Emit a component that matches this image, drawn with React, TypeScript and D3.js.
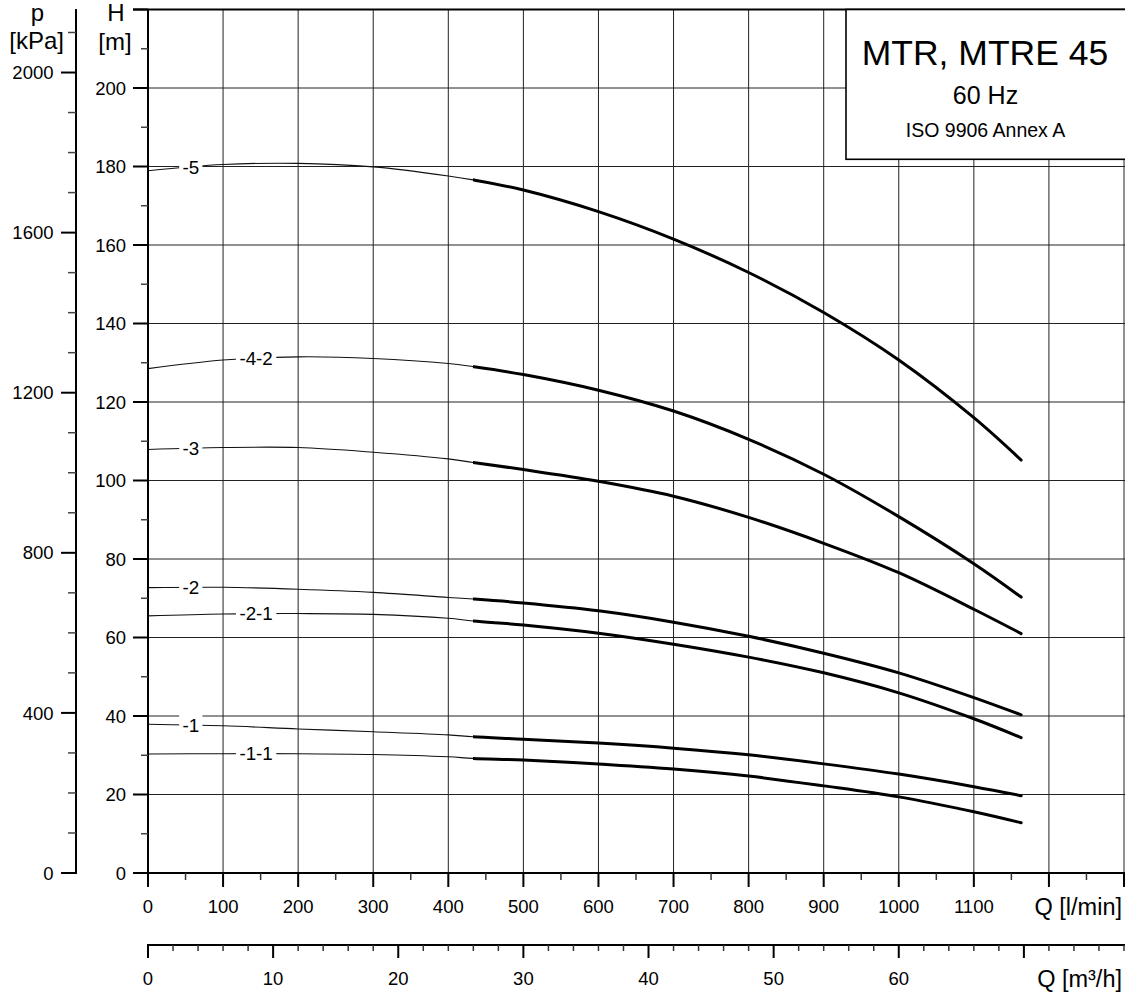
import React from "react";
import * as d3 from "d3";

// ---------- data ----------
const flowLpm = [0, 100, 200, 300, 400, 433, 500, 600, 700, 800, 900, 1000, 1100, 1163];
const head_5 = [178.9, 180.5, 180.8, 179.9, 177.6, 176.6, 174.0, 168.5, 161.5, 153.0, 142.8, 130.7, 116.0, 105.2];
const head_4_2 = [128.5, 130.7, 131.5, 131.1, 129.8, 129.0, 127.0, 123.0, 117.7, 110.5, 101.6, 90.8, 78.8, 70.3];
const head_3 = [107.9, 108.4, 108.4, 107.2, 105.5, 104.6, 102.8, 99.8, 96.0, 90.6, 84.0, 76.5, 67.2, 61.0];
const head_2 = [72.7, 72.8, 72.3, 71.5, 70.2, 69.8, 68.8, 66.8, 63.9, 60.3, 56.0, 51.0, 44.7, 40.3];
const head_2_1 = [65.5, 66.0, 66.1, 65.9, 64.9, 64.2, 63.2, 61.1, 58.3, 55.0, 51.0, 45.9, 39.3, 34.5];
const head_1 = [37.9, 37.5, 36.7, 36.0, 35.2, 34.7, 34.1, 33.1, 31.8, 30.1, 27.8, 25.2, 22.0, 19.7];
const head_1_1 = [30.3, 30.4, 30.4, 30.2, 29.6, 29.2, 28.8, 27.8, 26.5, 24.7, 22.2, 19.4, 15.6, 12.8];

const curveNames = ["-5", "-4-2", "-3", "-2", "-2-1", "-1", "-1-1"];
const curveHeads = [head_5, head_4_2, head_3, head_2, head_2_1, head_1, head_1_1];
const labelFlow = [57, 144, 57, 57, 144, 57, 144];
const thickFrom = 433;

const qTickLabels = [0, 100, 200, 300, 400, 500, 600, 700, 800, 900, 1000, 1100];
const m3hTickLabels = [0, 10, 20, 30, 40, 50, 60];
const hTickLabels = [0, 20, 40, 60, 80, 100, 120, 140, 160, 180, 200];
const pTickLabels = [0, 400, 800, 1200, 1600, 2000];

const titleLines = ["MTR, MTRE 45", "60 Hz", "ISO 9906 Annex A"];

// ---------- layout ----------
const W = 1125;
const H = 996;
const FONT = "'Liberation Sans', Arial, Helvetica, sans-serif";
const plotL = 148;
const plotR = 1124;
const plotB = 873;
const plotT = 9.5;
const Q_MAX = 1300;
const H_MAX = 220;

const x = d3.scaleLinear().domain([0, Q_MAX]).range([plotL, plotR]);
const xm = d3.scaleLinear().domain([0, Q_MAX / (1000 / 60)]).range([plotL, plotR]);
const y = d3.scaleLinear().domain([0, H_MAX]).range([plotB, plotT]);
const yp = d3.scaleLinear().domain([0, H_MAX * 9.80665]).range([plotB, plotT]);

const pAxisX = 76;
const m3Axis = 945;

export default function App() {
  const line = d3
    .line<[number, number]>()
    .x((d) => x(d[0]))
    .y((d) => y(d[1]))
    .curve(d3.curveCatmullRom.alpha(0.5));

  const vGrid = d3.range(100, Q_MAX + 1, 100);
  const hGrid = d3.range(20, 201, 20);
  const qMinor = d3.range(50, Q_MAX + 1, 100);
  const qMajor = d3.range(0, Q_MAX + 1, 100);
  const mMax = Q_MAX / (1000 / 60);
  const mTicks = d3.range(0, mMax + 0.01, 2);
  const hTicks = d3.range(0, H_MAX + 1, 10);
  const pMaxVal = H_MAX * 9.80665;
  const pTicks = d3.range(0, pMaxVal, 100);

  return (
    <svg
      width={W}
      height={H}
      style={{ position: "absolute", left: 0, top: 0, background: "#fff" }}
      fontFamily={FONT}
    >
      <defs>
        <clipPath id="thickClip">
          <rect x={x(thickFrom)} y={0} width={W - x(thickFrom)} height={H} />
        </clipPath>
      </defs>
      <rect x={0} y={0} width={W} height={H} fill="#fff" />
      {/* grid */}
      <g stroke="#222" strokeWidth={1}>
        {vGrid.map((q) => (
          <line key={"v" + q} x1={x(q)} x2={x(q)} y1={plotB} y2={plotT} />
        ))}
        {hGrid.map((h) => (
          <line key={"h" + h} x1={plotL} x2={W} y1={y(h)} y2={y(h)} />
        ))}
      </g>
      {/* top border */}
      <line x1={133} x2={W} y1={y(H_MAX)} y2={y(H_MAX)} stroke="#000" strokeWidth={2} />

      {/* curves */}
      {curveHeads.map((hs, i) => {
        const pts: [number, number][] = flowLpm.map((q, j) => [q, hs[j]]);
        const d = line(pts) || "";
        return (
          <g key={curveNames[i]}>
            <path d={d} fill="none" stroke="#111" strokeWidth={1.1} />
            <path
              d={d}
              fill="none"
              stroke="#000"
              strokeWidth={3}
              strokeLinecap="round"
              clipPath="url(#thickClip)"
            />
          </g>
        );
      })}

      {/* curve labels */}
      {curveHeads.map((hs, i) => {
        const interp = d3.scaleLinear().domain(flowLpm).range(hs);
        const lq = labelFlow[i];
        const cx = x(lq);
        const cy = y(interp(lq));
        const name = curveNames[i];
        const w = name.length * 8.6 + 6;
        return (
          <g key={"l" + name}>
            <rect x={cx - w / 2} y={cy - 10.5} width={w} height={21} fill="#fff" />
            <text
              x={cx}
              y={cy}
              dy="0.35em"
              textAnchor="middle"
              fontSize={18.8}
              fill="#000"
            >
              {name}
            </text>
          </g>
        );
      })}

      {/* title box */}
      <rect x={846} y={y(H_MAX)} width={W - 846 + 10} height={159.3 - y(H_MAX)} fill="#fff" stroke="#000" strokeWidth={1.6} />
      <text x={985} y={65} textAnchor="middle" fontSize={35.5} fill="#000">
        {titleLines[0]}
      </text>
      <text x={985.5} y={104} textAnchor="middle" fontSize={25} fill="#000">
        {titleLines[1]}
      </text>
      <text x={985.5} y={137.3} textAnchor="middle" fontSize={19.5} fill="#000">
        {titleLines[2]}
      </text>

      {/* H axis */}
      <line x1={plotL} x2={plotL} y1={plotT - 0.5} y2={plotB + 14} stroke="#000" strokeWidth={2} />
      {hTicks.map((h) => {
        const major = h % 20 === 0;
        return (
          <line
            key={"ht" + h}
            x1={major ? 133 : 141}
            x2={plotL}
            y1={y(h)}
            y2={y(h)}
            stroke={major ? "#000" : "#444"}
            strokeWidth={major ? 2 : 1.5}
          />
        );
      })}
      {hTickLabels.map((h) => (
        <text key={"hl" + h} x={126} y={y(h)} dy="0.36em" textAnchor="end" fontSize={18.5}>
          {h}
        </text>
      ))}
      <text x={116} y={20.7} textAnchor="middle" fontSize={24}>
        H
      </text>
      <text x={115} y={49.5} textAnchor="middle" fontSize={24}>
        [m]
      </text>

      {/* p axis */}
      <line x1={pAxisX} x2={pAxisX} y1={plotT - 0.5} y2={plotB + 1} stroke="#000" strokeWidth={2} />
      {pTicks.map((p) => {
        const major = p % 400 === 0;
        return (
          <line
            key={"pt" + p}
            x1={major ? 61 : 68}
            x2={pAxisX}
            y1={yp(p)}
            y2={yp(p)}
            stroke={major ? "#000" : "#444"}
            strokeWidth={major ? 2 : 1.5}
          />
        );
      })}
      {pTickLabels.map((p) => (
        <text key={"pl" + p} x={53.5} y={yp(p)} dy="0.36em" textAnchor="end" fontSize={18.5}>
          {p}
        </text>
      ))}
      <text x={37.5} y={21.4} textAnchor="middle" fontSize={24}>
        p
      </text>
      <text x={36.7} y={48.5} textAnchor="middle" fontSize={24}>
        [kPa]
      </text>

      {/* Q l/min axis */}
      <line x1={plotL - 15} x2={W} y1={plotB} y2={plotB} stroke="#000" strokeWidth={2} />
      {qMajor.map((q) => (
        <line key={"qM" + q} x1={x(q)} x2={x(q)} y1={plotB} y2={plotB + 14} stroke="#000" strokeWidth={2} />
      ))}
      {qMinor.map((q) => (
        <line key={"qm" + q} x1={x(q)} x2={x(q)} y1={plotB} y2={plotB + 7} stroke="#333" strokeWidth={1.5} />
      ))}
      {qTickLabels.map((q) => (
        <text key={"ql" + q} x={x(q)} y={912.5} textAnchor="middle" fontSize={18.5}>
          {q}
        </text>
      ))}
      <text x={1122} y={914.5} textAnchor="end" fontSize={23.5}>
        Q [l/min]
      </text>

      {/* Q m3/h axis */}
      <line x1={plotL - 1} x2={W} y1={m3Axis} y2={m3Axis} stroke="#000" strokeWidth={2} />
      {mTicks.map((m) => {
        const major = Math.round(m) % 10 === 0;
        return (
          <line
            key={"mt" + m}
            x1={xm(m)}
            x2={xm(m)}
            y1={m3Axis}
            y2={m3Axis + (major ? 13 : 6)}
            stroke={major ? "#000" : "#333"}
            strokeWidth={major ? 2 : 1.5}
          />
        );
      })}
      {m3hTickLabels.map((m) => (
        <text key={"ml" + m} x={xm(m)} y={985} textAnchor="middle" fontSize={18.5}>
          {m}
        </text>
      ))}
      <text x={1122} y={986.5} textAnchor="end" fontSize={23.5}>
        Q [m³/h]
      </text>
    </svg>
  );
}
